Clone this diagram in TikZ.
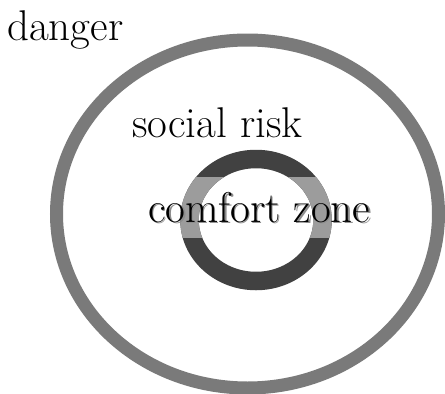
\documentclass[tikz,border=0pt]{standalone}
\usetikzlibrary{positioning}
\definecolor{ringgray}{HTML}{7A7A7A}
\definecolor{ringdark}{HTML}{414141}
\definecolor{ringlight}{HTML}{9C9C9C}

\begin{document}
\begin{tikzpicture}[x=1pt,y=-1pt,inner sep=0pt,
  zonetext/.style={anchor=base west,font=\fontsize{43}{47}\selectfont}]
\useasboundingbox (0,0) rectangle (445,394);
\fill[white] (0,0) rectangle (445,394);
\coordinate (outer) at (247.5,214);
\coordinate (inner) at (256,220);
\draw[ringgray,line width=13pt] (outer) ellipse [x radius=191,y radius=174];
\draw[ringdark,line width=18.5pt] (inner) ellipse [x radius=66.5,y radius=61];
\begin{scope}
\clip (150,177) rectangle (360,237);
\draw[ringlight,line width=18.5pt] (inner) ellipse [x radius=66.5,y radius=61];
\end{scope}
\node[zonetext] (danger) at (7,40) {danger};
\node[zonetext] (social) at (132,137) {social risk};
\node[zonetext,text=black!45] (comfortshadow) at (149.5,223.5) {comfort zone};
\node[zonetext] (comfort) at (148,222) {comfort zone};
\end{tikzpicture}
\end{document}
